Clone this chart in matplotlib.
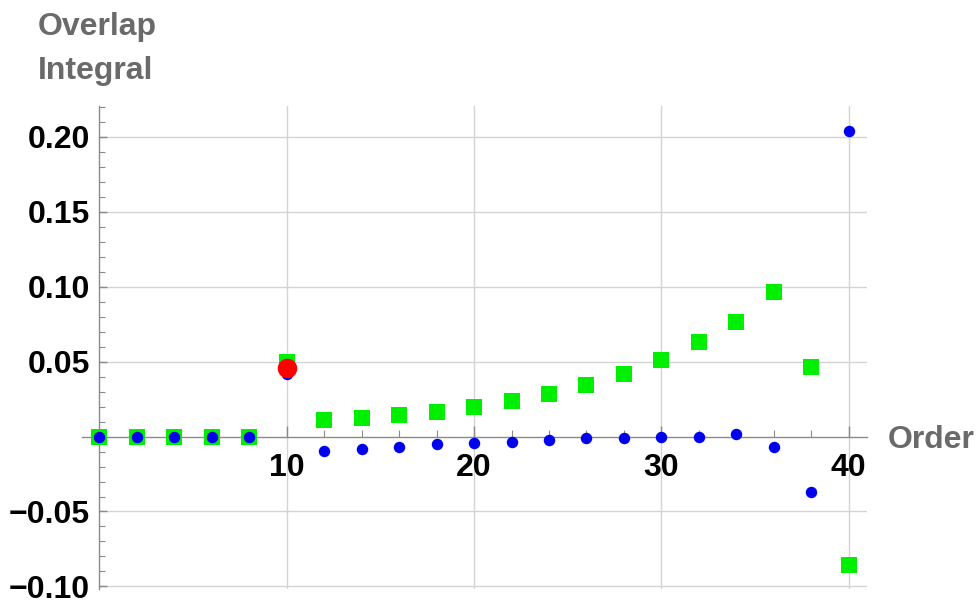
import numpy as np
import matplotlib.pyplot as plt
from matplotlib.ticker import MultipleLocator, FixedLocator

plt.rcParams['font.family'] = ['Liberation Sans', 'DejaVu Sans']

order = np.arange(0, 41, 2)
green_vals = [0, 0, 0, 0, 0, 0.050, 0.0108, 0.0124, 0.0142, 0.0164, 0.0197,
              0.0237, 0.0286, 0.0345, 0.0418, 0.051, 0.0629, 0.0761, 0.0961,
              0.0463, -0.0859]
blue_vals = [0, 0, 0, 0, 0, 0.0418, -0.0097, -0.0084, -0.0069, -0.0053, -0.0042,
             -0.0035, -0.0024, -0.0013, -0.0007, 0.0, -0.0002, 0.0015, -0.0069,
             -0.0367, 0.204]
red_x = [10]
red_vals = [0.0456]

y_ticks = [-0.10, -0.05, 0.05, 0.10, 0.15, 0.20]
y_labels = ['\u22120.10', '\u22120.05', '0.05', '0.10', '0.15', '0.20']
x_ticks = [10, 20, 30, 40]

fig = plt.figure(figsize=(9.78, 6.02), dpi=100)
ax = fig.add_axes([82.5 / 978, 13 / 602, 785 / 978, 483 / 602])
ax.set_xlim(-0.9, 41.0)
ax.set_ylim(-0.1017, 0.2205)

for s in ['top', 'right']:
    ax.spines[s].set_visible(False)
ax.spines['left'].set_position(('data', 0))
ax.spines['bottom'].set_position(('data', 0))
for s in ['left', 'bottom']:
    ax.spines[s].set_color('#8a8a8a')
    ax.spines[s].set_linewidth(1.0)

# grid lines
for gx in x_ticks:
    ax.axvline(gx, color='#d4d4d4', lw=1.0, zorder=0)
for gy in y_ticks:
    ax.axhline(gy, xmin=0.9 / 41.9, color='#d4d4d4', lw=1.0, zorder=0)

ax.yaxis.set_major_locator(FixedLocator(y_ticks))
ax.set_yticklabels(y_labels)
ax.yaxis.set_minor_locator(MultipleLocator(0.01))
ax.xaxis.set_major_locator(FixedLocator(x_ticks))
ax.xaxis.set_minor_locator(MultipleLocator(2))

ax.tick_params(axis='y', which='major', direction='in', length=6, width=1,
               color='#8a8a8a', labelsize=23, pad=7)
ax.tick_params(axis='y', which='minor', direction='in', length=4, width=0.8,
               color='#8a8a8a')
ax.tick_params(axis='x', which='major', direction='in', length=8, width=1,
               color='#8a8a8a', labelsize=23, pad=12)
ax.tick_params(axis='x', which='minor', direction='in', length=5, width=0.8,
               color='#8a8a8a')
for lab in ax.get_xticklabels() + ax.get_yticklabels():
    lab.set_fontweight('bold')

ax.scatter(order, green_vals, marker='s', s=132, color='#00ee00', zorder=3,
           linewidths=0)
ax.scatter(order, blue_vals, marker='o', s=68, color='#0000ee', zorder=4,
           linewidths=0)
ax.scatter(red_x, red_vals, marker='o', s=198, color='#ff0000', zorder=5,
           linewidths=0)

fig.text(38 / 978, 1 - 27 / 602, 'Overlap', fontsize=23, fontweight='bold',
         color='#6a6a6a', va='center', ha='left')
fig.text(38 / 978, 1 - 71 / 602, 'Integral', fontsize=23, fontweight='bold',
         color='#6a6a6a', va='center', ha='left')
fig.text(888 / 978, 1 - 440 / 602, 'Order', fontsize=23, fontweight='bold',
         color='#6a6a6a', va='center', ha='left')

fig.savefig('out.png', dpi=100)
